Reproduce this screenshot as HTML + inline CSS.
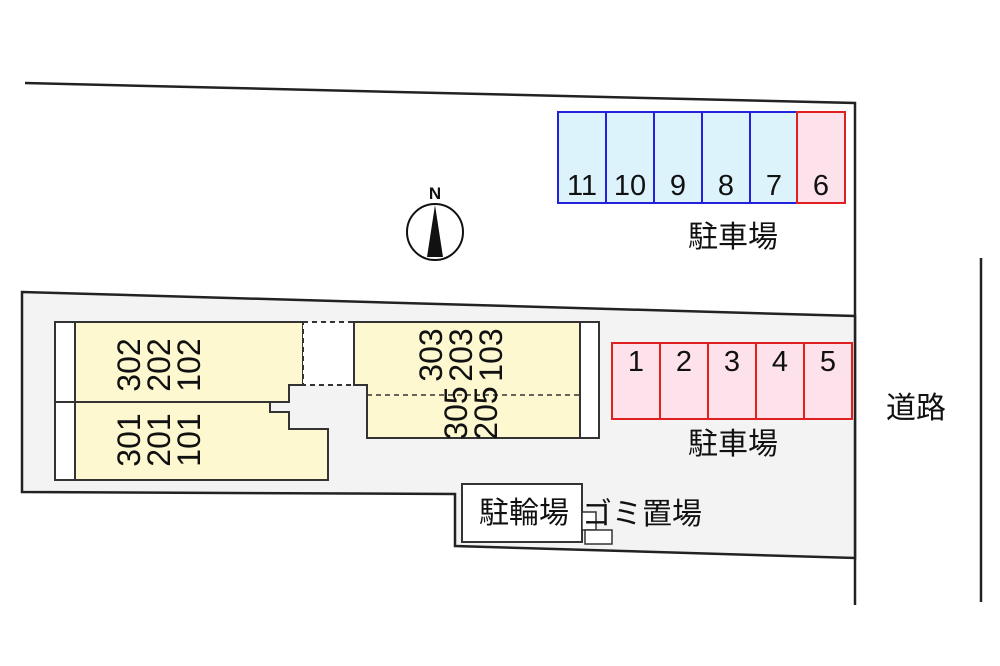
<!DOCTYPE html>
<html><head><meta charset="utf-8"><style>
html,body{margin:0;padding:0;background:#fff;width:1000px;height:666px;overflow:hidden}
text{font-family:"Liberation Sans","Noto Sans CJK JP",sans-serif;fill:#111}
</style></head><body>
<svg width="1000" height="666" viewBox="0 0 1000 666" xmlns="http://www.w3.org/2000/svg">
<polyline points="25,83 855,103 855,605" fill="none" stroke="#222" stroke-width="2.5"/>
<line x1="981" y1="258" x2="981" y2="602" stroke="#222" stroke-width="2.5"/>
<polygon points="22,292 855,316 855,558 455,546 455,494 22,492" fill="#f3f3f3" stroke="#222" stroke-width="2.5"/>
<rect x="55" y="322" width="20" height="158" fill="#fff" stroke="#333" stroke-width="2"/>
<line x1="55" y1="402" x2="75" y2="402" stroke="#333" stroke-width="2"/>
<polygon points="75,322 303,322 303,385 289,385 289,402 75,402" fill="#fdf8d0" stroke="#333" stroke-width="2"/>
<polygon points="75,402 270,402 270,412 289,412 289,429 328,429 328,480 75,480" fill="#fdf8d0" stroke="#333" stroke-width="2"/>
<rect x="303" y="322" width="51" height="63" fill="#fff" stroke="#333" stroke-width="2" stroke-dasharray="5,4"/>
<polygon points="354,322 580,322 580,438 367,438 367,385 354,385" fill="#fdf8d0" stroke="#333" stroke-width="2"/>
<rect x="580" y="322" width="19" height="116" fill="#fff" stroke="#333" stroke-width="2"/>
<line x1="367" y1="395" x2="580" y2="395" stroke="#333" stroke-width="1.5" stroke-dasharray="5,4"/>
<g font-size="32">
<text transform="translate(140,365) rotate(-90)" text-anchor="middle">302</text>
<text transform="translate(170,365) rotate(-90)" text-anchor="middle">202</text>
<text transform="translate(200,365) rotate(-90)" text-anchor="middle">102</text>
<text transform="translate(140,440) rotate(-90)" text-anchor="middle">301</text>
<text transform="translate(170,440) rotate(-90)" text-anchor="middle">201</text>
<text transform="translate(200,440) rotate(-90)" text-anchor="middle">101</text>
<text transform="translate(442,355) rotate(-90)" text-anchor="middle">303</text>
<text transform="translate(472,355) rotate(-90)" text-anchor="middle">203</text>
<text transform="translate(502,355) rotate(-90)" text-anchor="middle">103</text>
<text transform="translate(467,413) rotate(-90)" text-anchor="middle">305</text>
<text transform="translate(497,413) rotate(-90)" text-anchor="middle">205</text>
</g>
<rect x="462" y="484" width="120" height="58" fill="#fff" stroke="#333" stroke-width="2"/>
<text x="524" y="523" font-size="30" text-anchor="middle">駐輪場</text>
<rect x="582" y="512" width="14" height="18" fill="#fff" stroke="#333" stroke-width="1.5"/>
<rect x="585" y="530" width="27" height="14" fill="#fff" stroke="#333" stroke-width="1.5"/>
<text x="582" y="524" font-size="30">ゴミ置場</text>
<g stroke="#2222dd" stroke-width="2" fill="#dcf3fc">
<rect x="558" y="112" width="48" height="91"/><rect x="606" y="112" width="48" height="91"/>
<rect x="654" y="112" width="48" height="91"/><rect x="702" y="112" width="48" height="91"/>
<rect x="750" y="112" width="47" height="91"/>
</g>
<rect x="797" y="112" width="48" height="91" fill="#fde2ec" stroke="#e02020" stroke-width="2"/>
<g font-size="29" text-anchor="middle">
<text x="582" y="195">11</text><text x="630" y="195">10</text><text x="678" y="195">9</text>
<text x="726" y="195">8</text><text x="774" y="195">7</text><text x="821" y="195">6</text>
</g>
<text x="733" y="247" font-size="30" text-anchor="middle">駐車場</text>
<g stroke="#e02020" stroke-width="2" fill="#fde2ec">
<rect x="612" y="343" width="48" height="76"/><rect x="660" y="343" width="48" height="76"/>
<rect x="708" y="343" width="48" height="76"/><rect x="756" y="343" width="48" height="76"/>
<rect x="804" y="343" width="48" height="76"/>
</g>
<g font-size="29" text-anchor="middle">
<text x="636" y="371">1</text><text x="684" y="371">2</text><text x="732" y="371">3</text>
<text x="780" y="371">4</text><text x="828" y="371">5</text>
</g>
<text x="733" y="454" font-size="30" text-anchor="middle">駐車場</text>
<text x="916" y="418" font-size="30" text-anchor="middle">道路</text>
<circle cx="435" cy="232" r="28" fill="#fff" stroke="#111" stroke-width="2"/>
<polygon points="435,205 427,257 443,257" fill="#111"/>
<text x="435" y="199" font-size="17" font-weight="bold" text-anchor="middle">N</text>
</svg>
</body></html>
